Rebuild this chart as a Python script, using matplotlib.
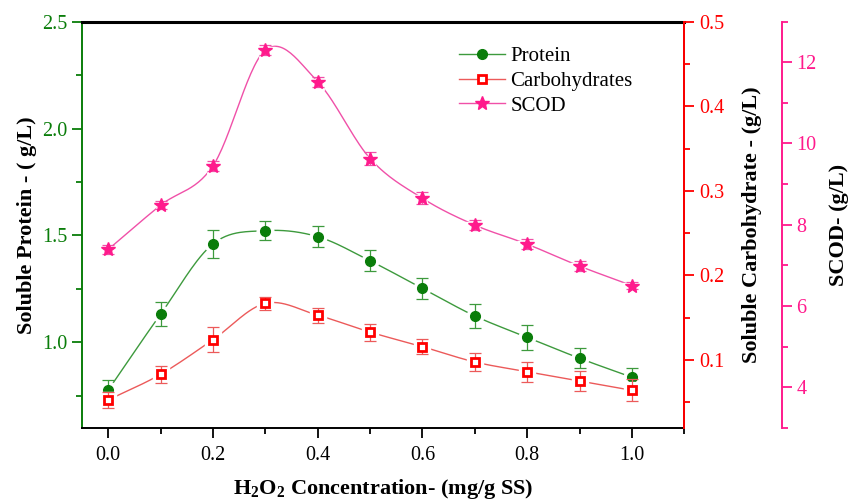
import matplotlib
matplotlib.use("Agg")
import matplotlib.pyplot as plt
from matplotlib.ticker import MultipleLocator
import numpy as np

plt.rcParams["font.family"] = ["Liberation Serif", "DejaVu Serif"]
plt.rcParams["mathtext.fontset"] = "custom"
plt.rcParams["mathtext.rm"] = "Liberation Serif"
plt.rcParams["mathtext.bf"] = "Liberation Serif:bold"

# data
dose = [0.0, 0.1, 0.2, 0.3, 0.4, 0.5, 0.6, 0.7, 0.8, 0.9, 1.0]
protein = [0.776, 1.131, 1.46, 1.522, 1.494, 1.381, 1.252, 1.123, 1.023, 0.925, 0.836]
protein_err = [0.047, 0.055, 0.065, 0.045, 0.05, 0.05, 0.05, 0.055, 0.058, 0.047, 0.044]
carb = [0.0528, 0.0831, 0.124, 0.167, 0.153, 0.133, 0.1158, 0.0977, 0.0862, 0.0752, 0.0642]
carb_err = [0.009, 0.010, 0.015, 0.0075, 0.009, 0.010, 0.009, 0.011, 0.012, 0.012, 0.013]
scod = [7.39, 8.48, 9.45, 12.30, 11.52, 9.63, 8.65, 7.99, 7.52, 6.98, 6.50]
scod_err = [0.1, 0.1, 0.12, 0.12, 0.12, 0.15, 0.15, 0.12, 0.12, 0.12, 0.08]

GREEN = "#0a7d0a"
GREEN_L = "#3d9a3d"
RED = "#ff0000"
RED_L = "#ec5a5a"
PINK = "#ff1a8c"
PINK_L = "#f050a8"


def smooth(x, y, n=30):
    # cubic hermite through the points, for the curved connecting line
    x = np.asarray(x, float)
    y = np.asarray(y, float)
    m = np.gradient(y, x)
    xs, ys = [], []
    for i in range(len(x) - 1):
        h = x[i + 1] - x[i]
        t = np.linspace(0, 1, n)
        h00 = 2 * t**3 - 3 * t**2 + 1
        h10 = t**3 - 2 * t**2 + t
        h01 = -2 * t**3 + 3 * t**2
        h11 = t**3 - t**2
        xs.extend(x[i] + t * h)
        ys.extend(h00 * y[i] + h10 * h * m[i] + h01 * y[i + 1] + h11 * h * m[i + 1])
    return xs, ys


def draw(ax, y, err, marker, ms, color, lcolor, mfc, mew, label):
    sx, sy = smooth(dose, y)
    ax.plot(sx, sy, color=lcolor, lw=1.0, zorder=2)
    ax.plot(dose, y, ls="none", marker=marker, ms=ms + 5, color="white", zorder=3)
    ax.errorbar(dose, y, yerr=err, fmt="none", ecolor=lcolor, elinewidth=0.9,
                capsize=4, capthick=0.9, zorder=4)
    ax.plot(dose, y, ls="none", marker=marker, ms=ms, mfc=mfc, mec=color, mew=mew, zorder=5)
    h, = ax.plot([], [], color=lcolor, lw=1.0, marker=marker, ms=ms, mfc=mfc, mec=color, mew=mew)
    h.set_label(label)
    return h


fig = plt.figure(figsize=(8.57, 5.01), dpi=100)
ax = fig.add_axes([0.0957, 0.1463, 0.7028, 0.8104])
ax2 = ax.twinx()
ax3 = ax.twinx()
ax3.spines["right"].set_position(("axes", 1.162))

h1 = draw(ax, protein, protein_err, "o", 7, GREEN, GREEN_L, GREEN, 1, "Protein")
h2 = draw(ax2, carb, carb_err, "s", 6, RED, RED_L, "white", 2, "Carbohydrates")
h3 = draw(ax3, scod, scod_err, "*", 10, PINK, PINK_L, PINK, 1, "SCOD")

ax.set_xlim(-0.05, 1.1)
ax.set_ylim(0.6, 2.5)
ax2.set_ylim(0.02, 0.5)
ax3.set_ylim(3, 13)

ax.xaxis.set_major_locator(MultipleLocator(0.2))
ax.xaxis.set_minor_locator(MultipleLocator(0.1))
ax.yaxis.set_major_locator(MultipleLocator(0.5))
ax.yaxis.set_minor_locator(MultipleLocator(0.25))
ax2.yaxis.set_major_locator(MultipleLocator(0.1))
ax2.yaxis.set_minor_locator(MultipleLocator(0.05))
ax3.yaxis.set_major_locator(MultipleLocator(2))
ax3.yaxis.set_minor_locator(MultipleLocator(1))

ax.set_xticks([0.0, 0.2, 0.4, 0.6, 0.8, 1.0])
ax.set_xticklabels(["0.0", "0.2", "0.4", "0.6", "0.8", "1.0"])

for a in (ax, ax2, ax3):
    a.tick_params(which="major", direction="out", length=7, width=1.3, labelsize=14.5)
    a.tick_params(which="minor", direction="out", length=4.5, width=1.3)
    for s in a.spines.values():
        s.set_linewidth(1.4)

ax.tick_params(axis="x", which="major", pad=6)
ax.spines["left"].set_color(GREEN)
ax.tick_params(axis="y", which="both", colors=GREEN)
ax.tick_params(axis="x", which="both", colors="black")
ax2.spines["right"].set_color(RED)
ax2.tick_params(axis="y", which="both", colors=RED)
ax3.spines["right"].set_color(PINK)
ax3.tick_params(axis="y", which="both", colors=PINK)
for a in (ax2, ax3):
    a.spines["left"].set_visible(False)
    a.spines["bottom"].set_visible(False)
    a.spines["top"].set_visible(False)

# top frame line as a figure-level line along the axes' upper edge
frame_top = plt.Line2D([0, 1], [1, 1], transform=ax.transAxes, color="black",
                       lw=2.2, clip_on=False, zorder=20)
ax.add_line(frame_top)

ax.set_ylabel("Soluble Protein - ( g/L)", fontsize=16, fontweight="bold", labelpad=4)
ax2.set_ylabel("Soluble Carbohydrate - (g/L)", fontsize=16, fontweight="bold", labelpad=13)
ax3.set_ylabel("SCOD- (g/L)", fontsize=16, fontweight="bold", labelpad=9)
ax.set_xlabel(r"$\mathbf{H_2O_2}$ Concentration- (mg/g SS)", fontsize=16,
              fontweight="bold", labelpad=9)

ax3.legend(handles=[h1, h2, h3], loc="upper left", bbox_to_anchor=(0.595, 0.985),
           frameon=False, fontsize=15, handlelength=2.2, labelspacing=0.25,
           handletextpad=0.25)

fig.savefig("out.png", dpi=100)
